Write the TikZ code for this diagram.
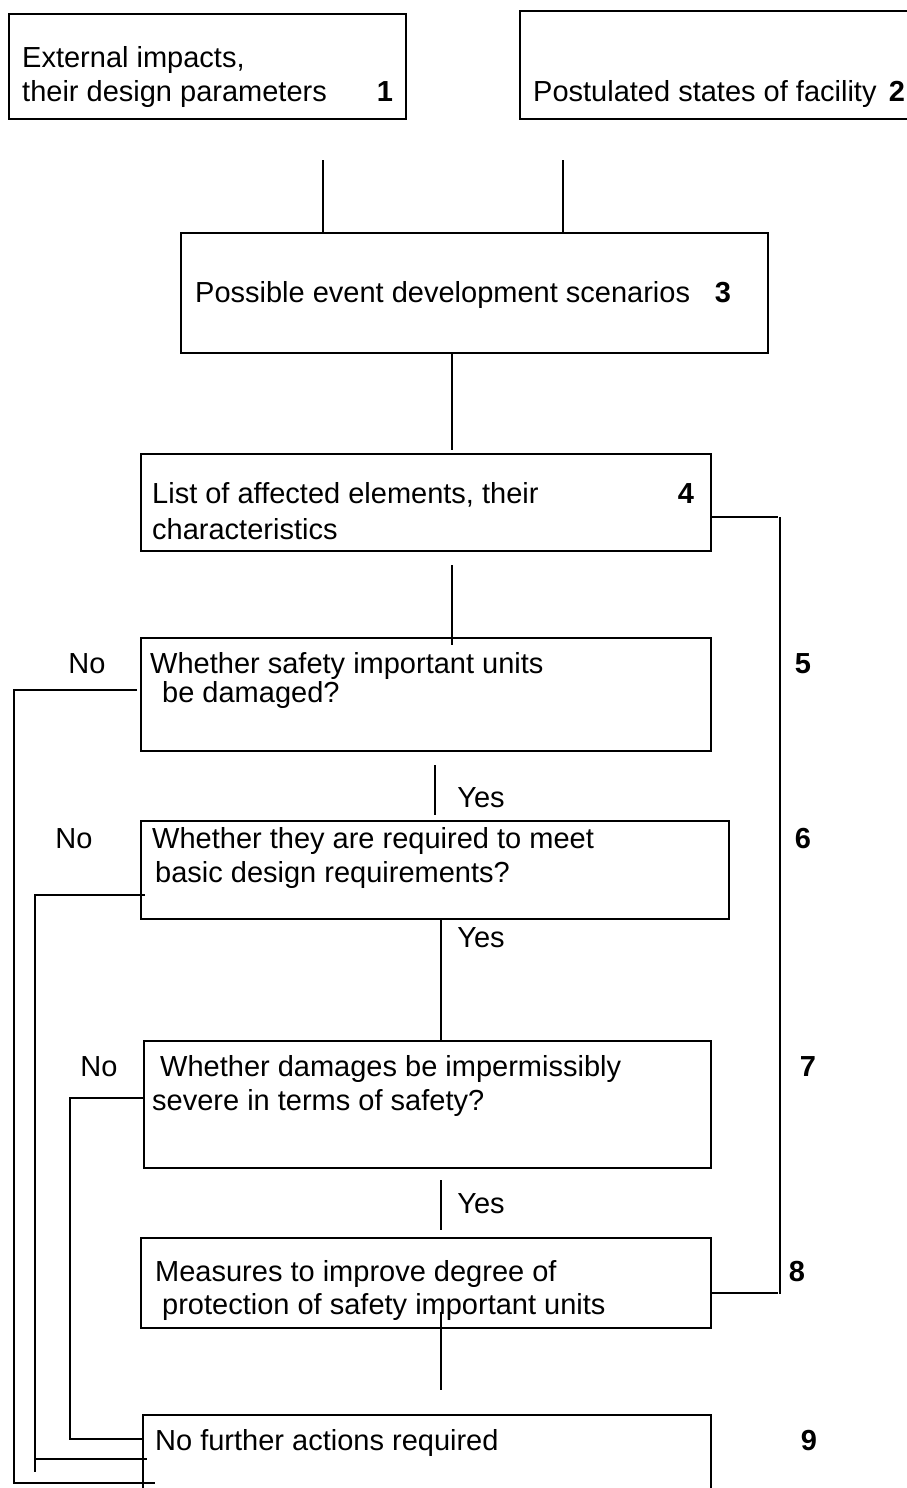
\documentclass[tikz,border=0pt]{standalone}
\usepackage{fontspec}
\setmainfont{Liberation Sans}
\tikzset{
  box/.style={draw, line width=2pt, inner sep=0pt, anchor=north west},
  txt/.style={font=\fontsize{29}{34}\selectfont, inner sep=0pt, anchor=west, text height=21pt, text depth=0pt},
  num/.style={font=\fontsize{29}{34}\selectfont\bfseries, inner sep=0pt, anchor=center, text height=21pt, text depth=0pt},
  lbl/.style={font=\fontsize{29}{34}\selectfont, inner sep=0pt, anchor=center, text height=21pt, text depth=0pt},
  ln/.style={line width=2pt}
}
\begin{document}
\begin{tikzpicture}[x=1pt,y=-1pt]
\useasboundingbox (0,0) rectangle (906,1488);
% boxes
\node[box, minimum width=397pt, minimum height=105pt] (b1) at (8,13) {};
\node[box, minimum width=400pt, minimum height=108pt] (b2) at (519,10) {};
\node[box, minimum width=587pt, minimum height=120pt] (b3) at (180,232) {};
\node[box, minimum width=570pt, minimum height=97pt] (b4) at (140,453) {};
\node[box, minimum width=570pt, minimum height=113pt] (b5) at (140,637) {};
\node[box, minimum width=588pt, minimum height=98pt] (b6) at (140,820) {};
\node[box, minimum width=567pt, minimum height=127pt] (b7) at (143,1040) {};
\node[box, minimum width=570pt, minimum height=90pt] (b8) at (140,1237) {};
\node[box, minimum width=568pt, minimum height=100pt] (b9) at (142,1414) {};
% texts
\node[txt] (t1a) at (22,57) {External impacts,};
\node[txt] (t1b) at (22,91) {their design parameters};
\node[num] (n1) at (385,91) {1};
\node[txt] (t2) at (533,91) {Postulated states of facility};
\node[num] (n2) at (897,91) {2};
\node[txt] (t3) at (195,292) {Possible event development scenarios};
\node[num] (n3) at (723,292) {3};
\node[txt] (t4a) at (152,493) {List of affected elements, their};
\node[txt] (t4b) at (152,529) {characteristics};
\node[num] (n4) at (686,493) {4};
\node[txt] (t5a) at (150,663) {Whether safety important units};
\node[txt] (t5b) at (162,692) {be damaged?};
\node[num] (n5) at (803,663) {5};
\node[lbl] (no5) at (87,663) {No};
\node[txt] (t6a) at (152,838) {Whether they are required to meet};
\node[txt] (t6b) at (155,872) {basic design requirements?};
\node[num] (n6) at (803,838) {6};
\node[lbl] (no6) at (74,838) {No};
\node[lbl] (y5) at (481,797) {Yes};
\node[txt] (t7a) at (160,1066) {Whether damages be impermissibly};
\node[txt] (t7b) at (152,1100) {severe in terms of safety?};
\node[num] (n7) at (808,1066) {7};
\node[lbl] (no7) at (99,1066) {No};
\node[lbl] (y6) at (481,937) {Yes};
\node[txt] (t8a) at (155,1271) {Measures to improve degree of};
\node[txt] (t8b) at (162,1304) {protection of safety important units};
\node[num] (n8) at (797,1271) {8};
\node[lbl] (y7) at (481,1203) {Yes};
\node[txt] (t9) at (155,1440) {No further actions required};
\node[num] (n9) at (809,1440) {9};
% free ends
\coordinate (c1) at (323,160);
\coordinate (c2) at (563,160);
\coordinate (c4a) at (452,565);
\coordinate (c5a) at (435,765);
\coordinate (c8a) at (441,1312);
\coordinate (c8b) at (441,1390);
\coordinate (c7a) at (441,1180);
\coordinate (c7b) at (441,1230);
\coordinate (c5b) at (435,815);
\coordinate (c6a) at (441,918);
% connectors
\draw[ln] (c1) -- (c1 |- b3.north);
\draw[ln] (c2) -- (c2 |- b3.north);
\draw[ln] (b3.south -| 452,0) -- (452,450);
\draw[ln] (c4a) -- (452,645);
\draw[ln] (c5a) -- (c5b);
\draw[ln] (c6a) -- (c6a |- b7.north);
\draw[ln] (c7a) -- (c7b);
\draw[ln] (c8a) -- (c8b);
% bracket 4-8
\draw[ln] (b4.east |- 0,517) -- (778,517);
\draw[ln] (780,517) -- (780,1294);
\draw[ln] (778,1293) -- (b8.east |- 0,1293);
% No branches
\draw[ln] (137,690) -- (14,690) -- (14,1483) -- (155,1483);
\draw[ln] (145,895) -- (35,895) -- (35,1472);
\draw[ln] (35,1459) -- (147,1459);
\draw[ln] (b7.west |- 0,1098) -- (70,1098) -- (70,1439) -- (b9.west |- 0,1439);
\end{tikzpicture}
\end{document}
